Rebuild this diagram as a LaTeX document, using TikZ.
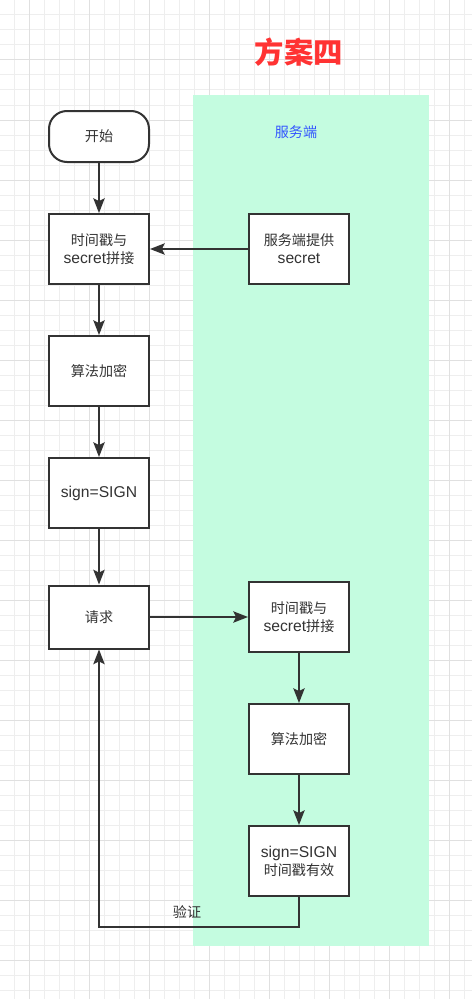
\documentclass[tikz,border=0pt]{standalone}
\usepackage{fontspec}
\setmainfont{Liberation Sans}
\newfontfamily\cjk{Noto Sans CJK SC}[Scale=0.9]
\usetikzlibrary{arrows.meta}
\definecolor{gridmin}{HTML}{EEEEEE}
\definecolor{gridmaj}{HTML}{E0E0E0}
\definecolor{srvgreen}{HTML}{C4FCE0}
\definecolor{ink}{HTML}{333333}
\definecolor{srvblue}{HTML}{3355FF}
\definecolor{titlered}{HTML}{FF3333}

\begin{document}
\begin{tikzpicture}[x=0.75pt,y=-0.75pt,
  every node/.style={font=\fontsize{11.75}{13.5}\selectfont,text=ink},
  box/.style={draw=ink,line width=1.5pt,fill=white,minimum width=75pt,minimum height=52.5pt,align=center,inner sep=0pt},
  arr/.style={draw=ink,line width=1.1pt,-{Stealth[length=11pt,width=8.5pt,inset=2pt]}}]
\useasboundingbox (0,0) rectangle (472,999);
\fill[white] (0,0) rectangle (472,999);
% grid
\foreach \x in {14.5,29.5,...,464.5}{\draw[gridmin,line width=0.75pt] (\x,0) -- (\x,999);}
\foreach \y in {0,15,...,990}{\draw[gridmin,line width=0.75pt] (0,\y) -- (472,\y);}
\foreach \x in {29.5,89.5,...,449.5}{\draw[gridmaj,line width=0.75pt] (\x,0) -- (\x,999);}
\foreach \y in {0,60,...,960}{\draw[gridmaj,line width=0.75pt] (0,\y) -- (472,\y);}
% server side
\fill[srvgreen] (193,95) rectangle (429,946);
\node[font=\fontsize{24.5}{29}\selectfont\cjk\bfseries,text=titlered] (ttl) at (299,52) {方案四};
\node[text=srvblue] (srv) at (296,132) {\cjk 服务端};
% client column
\node[box,rounded corners=13.5pt,minimum height=38.25pt] (start) at (99,136.5) {\cjk 开始};
\node[box] (cat) at (99,249) {{\cjk 时间戳与}\\secret{\cjk 拼接}};
\node[box] (enc) at (99,371) {\cjk 算法加密};
\node[box] (sig) at (99,493) {sign=SIGN};
\node[box,minimum height=47.25pt] (req) at (99,617) {\cjk 请求};
% server column
\node[box] (prov) at (299,249) {{\cjk 服务端提供}\\secret};
\node[box] (rcat) at (299,617) {{\cjk 时间戳与}\\secret{\cjk 拼接}};
\node[box] (renc) at (299,739) {\cjk 算法加密};
\node[box] (rsig) at (299,861) {sign=SIGN\\{\cjk 时间戳有效}};
% edges
\draw[arr] (start) -- (cat);
\draw[arr] (prov) -- (cat);
\draw[arr] (cat) -- (enc);
\draw[arr] (enc) -- (sig);
\draw[arr] (sig) -- (req);
\draw[arr] (req) -- (rcat);
\draw[arr] (rcat) -- (renc);
\draw[arr] (renc) -- (rsig);
\draw[arr] (rsig.south) -- ++(0,30) -| node[pos=0.28,above=2.5pt] (chk) {\cjk 验证} (req.south);
\end{tikzpicture}
\end{document}
